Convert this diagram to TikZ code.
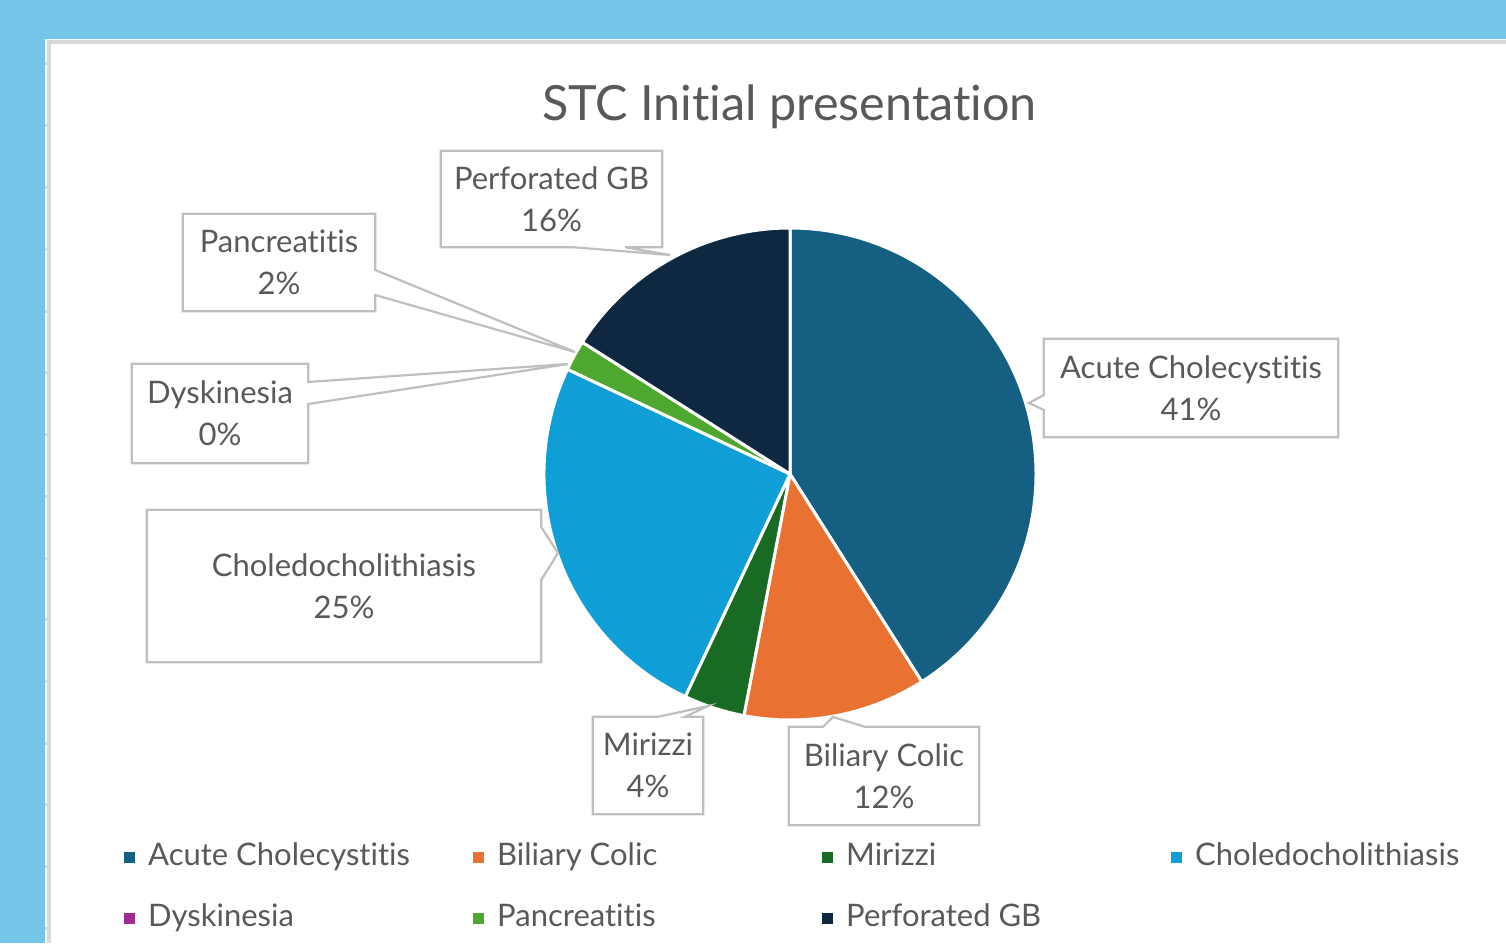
\documentclass[tikz,border=0pt]{standalone}
\usepackage{fontspec}
\setmainfont{Lato}[Ligatures=NoCommon]
\definecolor{bgblue}{HTML}{75C4E9}
\definecolor{framegray}{HTML}{D9D9D9}
\definecolor{txtgray}{HTML}{595959}
\definecolor{boxgray}{HTML}{BFBFBF}
\definecolor{cAcute}{HTML}{156082}
\definecolor{cBiliary}{HTML}{E97132}
\definecolor{cMirizzi}{HTML}{196B24}
\definecolor{cChole}{HTML}{0F9ED5}
\definecolor{cDysk}{HTML}{A02B93}
\definecolor{cPanc}{HTML}{4EA72E}
\definecolor{cPerf}{HTML}{0E2841}
\tikzset{
  slice/.style={draw=white, line width=3pt, line join=round},
  labelbox/.style={draw=none, align=center, text=txtgray, font=\fontsize{31}{42}\selectfont, inner sep=0pt},
  callout/.style={draw=boxgray, line width=2.2pt, line join=miter},
  legsq/.style={minimum size=11pt, inner sep=0pt},
  legtxt/.style={anchor=base west, text=txtgray, font=\fontsize{31}{36}\selectfont, inner sep=0pt},
}
\begin{document}
\begin{tikzpicture}[x=1pt,y=-1pt]
\useasboundingbox (0,0) rectangle (1506,943);
\fill[bgblue] (0,0) rectangle (1506,943);
\fill[white] (45,39) rectangle (1506,943);
\fill[framegray] (47,40) rectangle (1506,43.5);
\fill[framegray] (47,40) rectangle (50.5,943);
\foreach \ty in {63,125,187,249,311,372,434,496,558,619,681,743,804,866,928}
  \fill[framegray] (45,\ty-1.5) rectangle (47,\ty+1.5);

% title
\node[text=txtgray, font=\fontsize{48.5}{54}\selectfont, inner sep=0pt, anchor=base] (title) at (789.5,120) {STC Initial presentation};

% pie
\begin{scope}[shift={(790,474)}, y=1pt]
  \fill[cAcute, slice]   (0,0) -- (90:246)     arc[start angle=90,     end angle=-57.6,  radius=246] -- cycle;
  \fill[cBiliary, slice] (0,0) -- (-57.6:246)  arc[start angle=-57.6,  end angle=-100.8, radius=246] -- cycle;
  \fill[cMirizzi, slice] (0,0) -- (-100.8:246) arc[start angle=-100.8, end angle=-115.2, radius=246] -- cycle;
  \fill[cChole, slice]   (0,0) -- (-115.2:246) arc[start angle=-115.2, end angle=-205.2, radius=246] -- cycle;
  \fill[cPanc, slice]    (0,0) -- (-205.2:246) arc[start angle=-205.2, end angle=-212.4, radius=246] -- cycle;
  \fill[cPerf, slice]    (0,0) -- (-212.4:246) arc[start angle=-212.4, end angle=-270,   radius=246] -- cycle;
\end{scope}

% callout tips
\coordinate (tipAcute) at (1029,403);
\coordinate (tipBil) at (833,717);
\coordinate (tipMir) at (708,706);
\coordinate (tipChol) at (558,553);
\coordinate (tipDysk) at (568,364);
\coordinate (tipPanc) at (575,352);
\coordinate (tipPerf) at (670,255);

% label boxes
\node[labelbox, minimum width=294pt, minimum height=98pt] (acute) at (1191,388) {Acute Cholecystitis\\41\%};
\node[labelbox, minimum width=190pt, minimum height=98pt] (bil) at (884,776) {Biliary Colic\\12\%};
\node[labelbox, minimum width=110pt, minimum height=97pt] (mir) at (648,765.5) {Mirizzi\\4\%};
\node[labelbox, minimum width=394pt, minimum height=152pt] (chol) at (344,586) {Choledocholithiasis\\25\%};
\node[labelbox, minimum width=176pt, minimum height=99pt] (dysk) at (220,413.5) {Dyskinesia\\0\%};
\node[labelbox, minimum width=192pt, minimum height=97pt] (panc) at (279,262.5) {Pancreatitis\\2\%};
\node[labelbox, minimum width=221pt, minimum height=96pt] (perf) at (551.5,199) {Perforated GB\\16\%};

% callout outlines
\draw[callout] (acute.north west) -- (acute.north east) -- (acute.south east) -- (acute.south west)
  -- (acute.west |- 0,410) -- (tipAcute) -- (acute.west |- 0,395) -- cycle;
\draw[callout] (bil.north west) -- (bil.north west -| 823,0) -- (tipBil) -- (bil.north west -| 865,0)
  -- (bil.north east) -- (bil.south east) -- (bil.south west) -- cycle;
\draw[callout] (mir.north west) -- (mir.north west -| 658,0) -- (tipMir) -- (mir.north west -| 685,0)
  -- (mir.north east) -- (mir.south east) -- (mir.south west) -- cycle;
\draw[callout] (chol.north west) -- (chol.north east) -- (chol.east |- 0,527) -- (tipChol) -- (chol.east |- 0,580)
  -- (chol.south east) -- (chol.south west) -- cycle;
\draw[callout] (dysk.north west) -- (dysk.north east) -- (dysk.east |- 0,382) -- (tipDysk) -- (dysk.east |- 0,404)
  -- (dysk.south east) -- (dysk.south west) -- cycle;
\draw[callout] (panc.north west) -- (panc.north east) -- (panc.east |- 0,270) -- (tipPanc) -- (panc.east |- 0,295)
  -- (panc.south east) -- (panc.south west) -- cycle;
\draw[callout] (perf.north west) -- (perf.north east) -- (perf.south east) -- (perf.south west -| 625,0)
  -- (tipPerf) -- (perf.south west -| 573,0) -- (perf.south west) -- cycle;

% legend
\node[legsq, fill=cAcute]   (l1) at (129.5,857.5) {};
\node[legtxt] (l1t) at (148,865) {Acute Cholecystitis};
\node[legsq, fill=cBiliary] (l2) at (478.5,857.5) {};
\node[legtxt] (l2t) at (497,865) {Biliary Colic};
\node[legsq, fill=cMirizzi] (l3) at (827.5,857.5) {};
\node[legtxt] (l3t) at (846,865) {Mirizzi};
\node[legsq, fill=cChole]   (l4) at (1176.5,857.5) {};
\node[legtxt] (l4t) at (1195,865) {Choledocholithiasis};
\node[legsq, fill=cDysk]    (l5) at (129.5,918.5) {};
\node[legtxt] (l5t) at (148,926) {Dyskinesia};
\node[legsq, fill=cPanc]    (l6) at (478.5,918.5) {};
\node[legtxt] (l6t) at (497,926) {Pancreatitis};
\node[legsq, fill=cPerf]    (l7) at (827.5,918.5) {};
\node[legtxt] (l7t) at (846,926) {Perforated GB};
\end{tikzpicture}
\end{document}
